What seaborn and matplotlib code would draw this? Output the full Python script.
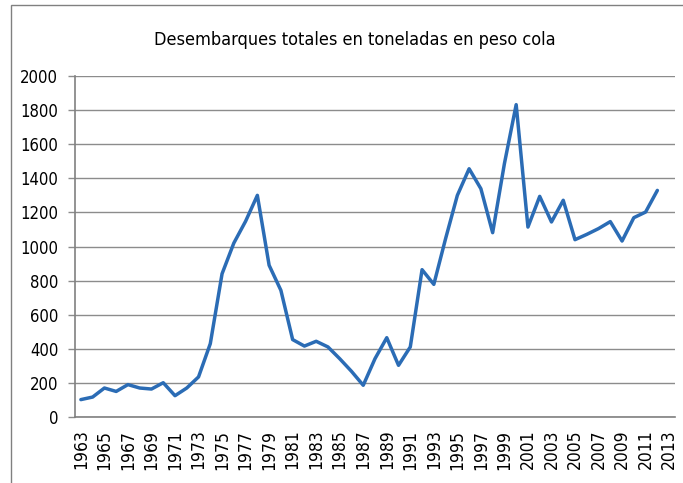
import numpy as np
import pandas as pd
import seaborn as sns
import matplotlib.pyplot as plt
from matplotlib.patches import Rectangle

# data
years = list(range(1963, 2013))
toneladas = [102, 117, 170, 150, 190, 170, 164, 201, 125, 170,
             235, 430, 840, 1020, 1148, 1300, 890, 743, 454, 416,
             444, 411, 342, 268, 186, 342, 465, 303, 411, 864,
             778, 1046, 1300, 1456, 1339, 1081, 1486, 1832, 1114, 1294,
             1144, 1271, 1040, 1071, 1105, 1146, 1032, 1169, 1202, 1329]
tick_years = list(range(1963, 2014, 2))
y_ticks = list(range(0, 2001, 200))
title = "Desembarques totales en toneladas en peso cola"

df = pd.DataFrame({"year": years, "toneladas": toneladas})

sns.set_theme(style="white")
plt.rcParams['font.family'] = ['DejaVu Sans']
plt.rcParams['font.stretch'] = 'condensed'
plt.rcParams['text.color'] = 'black'
plt.rcParams['xtick.color'] = 'black'
plt.rcParams['ytick.color'] = 'black'

fig = plt.figure(figsize=(6.83, 4.83), dpi=100)
W, H = 683, 483
ax = fig.add_axes([75 / W, 1 - 417 / H, 600 / W, 341 / H])

sns.lineplot(data=df, x="year", y="toneladas", ax=ax, color="#2B6CB5", linewidth=2.5)

ax.set_xlim(1962.5, 2013.5)
ax.set_ylim(0, 2000)
ax.set_yticks(y_ticks)
ax.set_yticklabels([str(v) for v in y_ticks], fontsize=12)
ax.set_xticks(tick_years)
ax.set_xticklabels([str(v) for v in tick_years], rotation=90, fontsize=12.5)
ax.set_xticks(np.arange(1962.5, 2014, 1), minor=True)
ax.tick_params(axis="x", which="major", length=0, pad=9)
ax.tick_params(axis="x", which="minor", length=4.5, width=1, color="#808080", direction="out")
ax.tick_params(axis="y", length=5, width=1, color="#8C8C8C", labelcolor="black",
               direction="out", left=True, pad=7)
ax.set_xlabel("")
ax.set_ylabel("")

ax.grid(axis="y", color="#8C8C8C", linewidth=1)
ax.set_axisbelow(True)
for side in ["top", "right"]:
    ax.spines[side].set_visible(False)
for side in ["left", "bottom"]:
    ax.spines[side].set_color("#808080")
    ax.spines[side].set_linewidth(1.2)

fig.text(355 / W, 1 - 40 / H, title, ha="center", va="center", fontsize=13, color="black")

# outer frame
fig.patches.append(Rectangle((11 / W, -0.01), 1.0, 1 - 5 / H + 0.01, transform=fig.transFigure,
                             fill=False, edgecolor="#808080", linewidth=1))

fig.savefig("out.png", dpi=100)
